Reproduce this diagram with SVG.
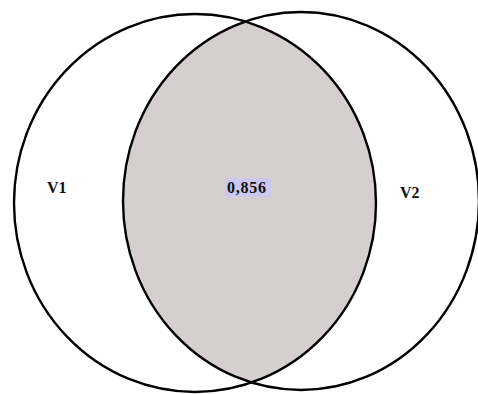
<svg xmlns="http://www.w3.org/2000/svg" width="478" height="394" viewBox="0 0 478 394">
<style>
.ring{fill:none;stroke:#000;stroke-width:2.4}
.lbl{font-family:"Liberation Serif","Times New Roman",serif;font-weight:bold;font-size:16px;fill:#111}
</style>
<defs>
<clipPath id="clipR"><ellipse cx="301" cy="201" rx="178" ry="189"/></clipPath>
</defs>
<rect width="478" height="394" fill="#fff"/>
<g id="intersection">
<ellipse cx="195" cy="203" rx="181" ry="189" fill="#d5cfd0" clip-path="url(#clipR)"/>
<rect x="225" y="178" width="46" height="19" fill="#cdc8ee"/>
<text class="lbl" x="227" y="193" textLength="39">0,856</text>
</g>
<g id="V1">
<ellipse class="ring" cx="195" cy="203" rx="181" ry="189"/>
<text class="lbl" x="47" y="193">V1</text>
</g>
<g id="V2">
<ellipse class="ring" cx="301" cy="201" rx="178" ry="189"/>
<text class="lbl" x="400" y="198">V2</text>
</g>
<g id="connectors"/>
</svg>
